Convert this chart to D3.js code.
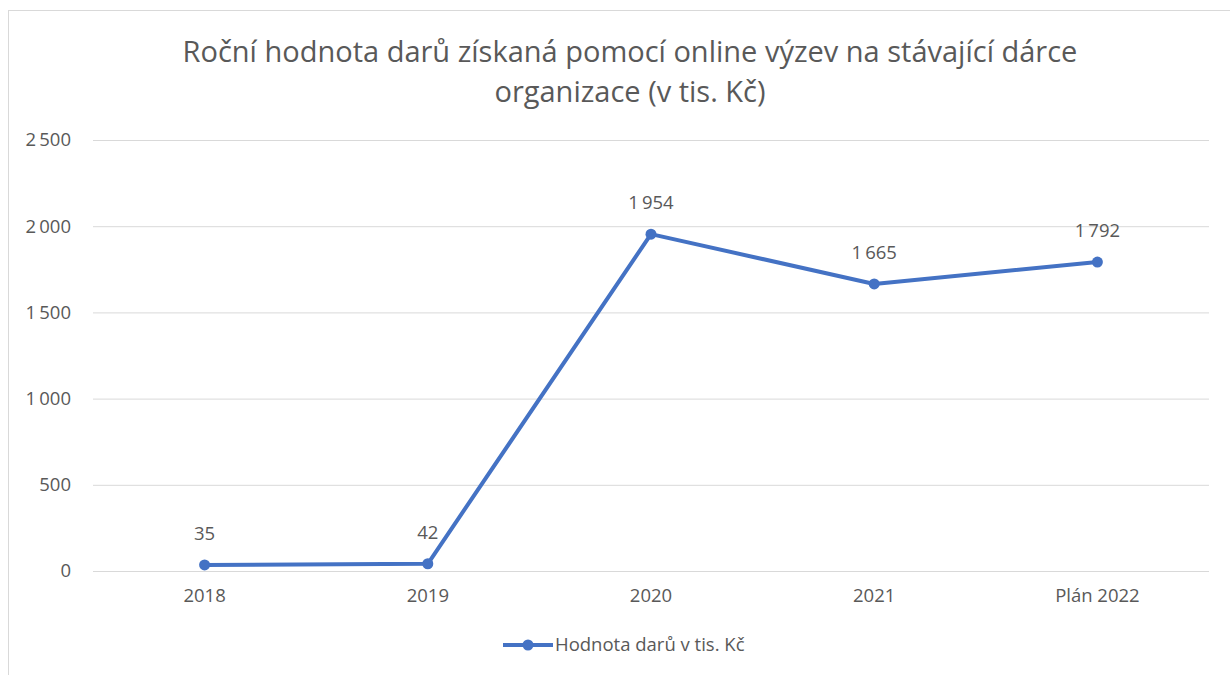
<!DOCTYPE html>
<html>
<head>
<meta charset="utf-8">
<script src="https://cdn.jsdelivr.net/npm/d3@7"></script>
<style>
  body { margin: 0; background: #fff; }
  text { font-family: "Open Sans", "Noto Sans", sans-serif; fill: #595959; }
</style>
</head>
<body>
<script>
var KATEGORIE = ["2018", "2019", "2020", "2021", "Plán 2022"];
var HODNOTY = [35, 42, 1954, 1665, 1792];
var TICKY = [0, 500, 1000, 1500, 2000, 2500];
var NAZEV = ["Roční hodnota darů získaná pomocí online výzev na stávající dárce", "organizace (v tis. Kč)"];
var SERIE = "Hodnota darů v tis. Kč";

var W = 1230, H = 675;
var margin = { top: 140, right: 21, bottom: 104, left: 93 };
var width = W - margin.left - margin.right;
var height = 571 - margin.top;
var FS = "18.5px";

var cz = d3.formatLocale({ decimal: ",", thousands: "\u2009", grouping: [3], currency: ["", " Kč"] });
var fmt = cz.format(",d");

var svg = d3.select("body").append("svg").attr("width", W).attr("height", H);

// rámeček grafu
svg.append("rect").attr("x", 8.5).attr("y", 10.5).attr("width", 1240).attr("height", 700)
  .attr("fill", "none").attr("stroke", "#d9d9d9").attr("stroke-width", 1);

// nadpis
svg.selectAll("text.title").data(NAZEV).enter().append("text").attr("class", "title")
  .attr("x", 630).attr("y", function (d, i) { return 62 + i * 40; })
  .attr("text-anchor", "middle").style("font-size", "29px").text(function (d) { return d; });

var g = svg.append("g").attr("transform", "translate(" + margin.left + "," + margin.top + ")");

var x = d3.scaleBand().domain(KATEGORIE).range([0, width]);
var y = d3.scaleLinear().domain([0, 2500]).range([height, 0]);

// mřížka + osa y
var yAxis = g.append("g").call(d3.axisLeft(y).tickValues(TICKY).tickSize(-width).tickPadding(22).tickFormat(fmt));
yAxis.select(".domain").remove();
yAxis.selectAll("line").attr("stroke", "#d9d9d9");
yAxis.selectAll("text").style("font-size", FS).style("fill", "#595959").style("font-family", "\"Open Sans\", sans-serif");

// osa x
var xAxis = g.append("g").attr("transform", "translate(0," + height + ")").call(d3.axisBottom(x).tickSize(0).tickPadding(18));
xAxis.select(".domain").remove();
xAxis.selectAll("text").style("font-size", FS).style("fill", "#595959").style("font-family", "\"Open Sans\", sans-serif");

var cx = function (d, i) { return x(KATEGORIE[i]) + x.bandwidth() / 2; };

var line = d3.line().x(function (d, i) { return cx(d, i); }).y(function (d) { return y(d); });

g.append("path").datum(HODNOTY).attr("d", line).attr("fill", "none")
  .attr("stroke", "#4472C4").attr("stroke-width", 4).attr("stroke-linejoin", "round");

g.selectAll("circle").data(HODNOTY).enter().append("circle")
  .attr("cx", cx).attr("cy", function (d) { return y(d); }).attr("r", 5.5).attr("fill", "#4472C4");

g.selectAll("text.lbl").data(HODNOTY).enter().append("text").attr("class", "lbl")
  .attr("x", cx).attr("y", function (d) { return y(d) - 25; })
  .attr("text-anchor", "middle").style("font-size", FS).text(function (d) { return fmt(d); });

// legenda
var leg = svg.append("g").attr("transform", "translate(503,645)");
leg.append("line").attr("x1", 0).attr("x2", 50).attr("y1", 0).attr("y2", 0).attr("stroke", "#4472C4").attr("stroke-width", 4);
leg.append("circle").attr("cx", 25).attr("cy", 0).attr("r", 5.5).attr("fill", "#4472C4");
leg.append("text").attr("x", 52).attr("y", 6).style("font-size", FS).text(SERIE);
</script>
</body>
</html>
